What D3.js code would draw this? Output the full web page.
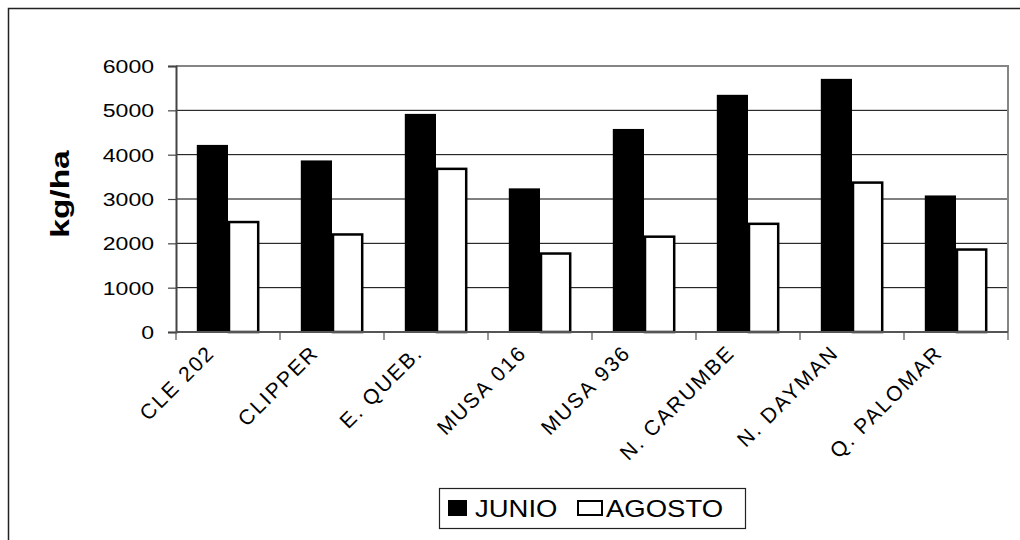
<!DOCTYPE html>
<html>
<head>
<meta charset="utf-8">
<script src="https://cdn.jsdelivr.net/npm/d3@7"></script>
<style>
  html, body { margin: 0; padding: 0; background: #fff; }
  svg { display: block; }
  text { font-family: Arial, "Liberation Sans", sans-serif; fill: #000; }
</style>
</head>
<body>
<svg id="chart" width="1020" height="540"></svg>
<script>
// Rendimiento por cultivar (kg/ha), siembras de junio y agosto
const categories = ["CLE 202", "CLIPPER", "E. QUEB.", "MUSA 016", "MUSA 936", "N. CARUMBE", "N. DAYMAN", "Q. PALOMAR"];
const seriesNames = ["JUNIO", "AGOSTO"];
const junio  = [4220, 3870, 4920, 3240, 4580, 5350, 5710, 3080];
const agosto = [2480, 2200, 3680, 1770, 2150, 2440, 3370, 1860];
const yTicks = [0, 1000, 2000, 3000, 4000, 5000, 6000];

const rows = categories.map((c, i) => ({ cat: c, JUNIO: junio[i], AGOSTO: agosto[i] }));

const svg = d3.select("#chart");
const plot = { left: 176, right: 1008, top: 66, bottom: 332 };

// outer chart frame (runs past the canvas on the right and bottom)
svg.append("rect")
  .attr("x", 8.5).attr("y", 8.5).attr("width", 1100).attr("height", 600)
  .attr("fill", "none").attr("stroke", "#222").attr("stroke-width", 1.5);

const x0 = d3.scaleBand().domain(categories).range([plot.left, plot.right])
  .paddingInner(0.4).paddingOuter(0.2);
const x1 = d3.scaleBand().domain(seriesNames).range([0, x0.bandwidth()]);
const y = d3.scaleLinear().domain([0, 6000]).range([plot.bottom, plot.top]);

// gridlines
svg.append("g")
  .selectAll("line").data(yTicks.filter(t => t > 0 && t < 6000)).join("line")
  .attr("x1", plot.left).attr("x2", plot.right)
  .attr("y1", d => y(d)).attr("y2", d => y(d))
  .attr("stroke", "#000").attr("stroke-width", 1);

// plot area frame: top and right edges
svg.append("path")
  .attr("d", `M${plot.left},${plot.top}H${plot.right}V${plot.bottom}`)
  .attr("fill", "none").attr("stroke", "#858585").attr("stroke-width", 2);

// bars
const groups = svg.append("g").selectAll("g").data(rows).join("g")
  .attr("transform", d => `translate(${x0(d.cat)},0)`);

groups.selectAll("rect").data(d => seriesNames.map(s => ({ s, v: d[s] }))).join("rect")
  .attr("x", d => x1(d.s) + (d.s === "AGOSTO" ? 1 : 0))
  .attr("y", d => y(d.v))
  .attr("width", d => x1.bandwidth() - (d.s === "AGOSTO" ? 2 : 0))
  .attr("height", d => y(0) - y(d.v))
  .attr("fill", d => d.s === "JUNIO" ? "#000" : "#fff")
  .attr("stroke", d => d.s === "JUNIO" ? "none" : "#000")
  .attr("stroke-width", 2.5);

// y axis
const yAxis = svg.append("g")
  .attr("transform", `translate(${plot.left},0)`)
  .call(d3.axisLeft(y).tickValues(yTicks).tickSize(8).tickPadding(14).tickFormat(d3.format("d")));
yAxis.select(".domain").attr("stroke", "#444").attr("stroke-width", 2);
yAxis.selectAll(".tick line").attr("stroke", "#444").attr("stroke-width", 1.2);
yAxis.selectAll(".tick text")
  .attr("font-size", 18).attr("font-family", "Arial, 'Liberation Sans', sans-serif")
  .attr("fill", "#000")
  .each(function () {
    const t = d3.select(this);
    const xx = +t.attr("x");
    t.attr("x", null).attr("dy", "0.36em")
      .attr("transform", `translate(${xx},0) scale(1.28,1)`);
  });

// x axis with ticks at category boundaries
const xEdges = d3.range(categories.length + 1).map(i => plot.left + i * x0.step());
const xAxis = svg.append("g");
xAxis.append("line")
  .attr("x1", plot.left).attr("x2", plot.right)
  .attr("y1", plot.bottom).attr("y2", plot.bottom)
  .attr("stroke", "#555").attr("stroke-width", 2);
xAxis.selectAll("line.tk").data(xEdges).join("line").attr("class", "tk")
  .attr("x1", d => d).attr("x2", d => d)
  .attr("y1", plot.bottom).attr("y2", plot.bottom + 8)
  .attr("stroke", "#555").attr("stroke-width", 1.2);

// category labels, rotated
xAxis.selectAll("text").data(categories).join("text")
  .attr("text-anchor", "end")
  .attr("font-size", 21)
  .attr("letter-spacing", 2)
  .attr("transform", d => `translate(${x0(d) + x0.bandwidth() / 2 - 12},${plot.bottom + 22}) rotate(-45)`)
  .text(d => d);

// y axis title
svg.append("text")
  .attr("text-anchor", "middle")
  .attr("font-size", 25).attr("font-weight", "bold")
  .attr("transform", `translate(69,194) rotate(-90) scale(1.34,1)`)
  .text("kg/ha");

// legend
const lg = svg.append("g");
lg.append("rect")
  .attr("x", 439.5).attr("y", 488.5).attr("width", 306).attr("height", 40)
  .attr("fill", "#fff").attr("stroke", "#222").attr("stroke-width", 1.2);
const legendItems = [
  { name: seriesNames[0], sx: 448, tx: 475, fill: "#000", stroke: "none" },
  { name: seriesNames[1], sx: 577, tx: 606, fill: "#fff", stroke: "#000" }
];
legendItems.forEach(it => {
  lg.append("rect")
    .attr("x", it.sx + (it.stroke === "none" ? 0 : 1)).attr("y", it.stroke === "none" ? 500 : 501)
    .attr("width", it.stroke === "none" ? 19 : 24).attr("height", it.stroke === "none" ? 16 : 14)
    .attr("fill", it.fill).attr("stroke", it.stroke).attr("stroke-width", 2);
  lg.append("text")
    .attr("font-size", 23.5)
    .attr("transform", `translate(${it.tx},516.5) scale(1.17,1)`)
    .text(it.name);
});
</script>
</body>
</html>
